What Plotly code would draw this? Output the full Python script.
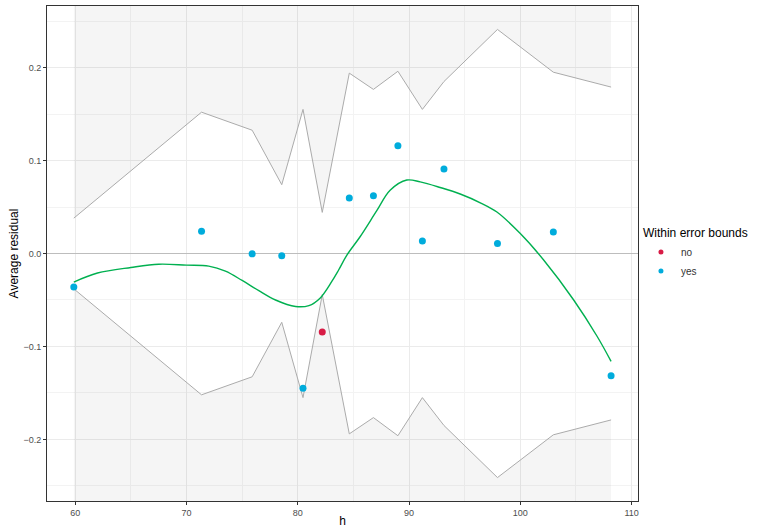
import plotly.graph_objects as go

# ---- data ----
h = [59.87, 71.35, 75.9, 78.56, 80.47, 82.2, 84.63, 86.8, 89.0, 91.2, 93.14, 97.95, 102.97, 108.16]
avg_resid = [-0.0361, 0.0239, -0.0004, -0.0024, -0.1448, -0.0844, 0.0596, 0.0622, 0.116,
             0.0135, 0.0909, 0.0107, 0.0232, -0.1316]
bound = [0.038, 0.152, 0.1326, 0.074, 0.155, 0.0442, 0.194, 0.1765, 0.196, 0.155, 0.185,
         0.241, 0.195, 0.179]
within = ["yes", "yes", "yes", "yes", "yes", "no", "yes", "yes", "yes", "yes", "yes", "yes", "yes", "yes"]

smooth_x = [59.87, 62, 65, 67.5, 70, 72, 73.5, 75, 76.5, 78, 79.8, 81, 82, 83.06, 83.66, 84.4,
            85.6, 87.1, 88.3, 89.8, 91, 92.8, 94.6, 96.5, 97.9, 100, 102.1, 104.8, 106.9, 108.16]
smooth_y = [-0.0307, -0.021, -0.015, -0.0115, -0.0125, -0.0136, -0.019, -0.029, -0.040, -0.050,
            -0.057, -0.056, -0.048, -0.030, -0.018, -0.002, 0.018, 0.046, 0.068, 0.079, 0.077,
            0.071, 0.064, 0.054, 0.0446, 0.0214, -0.007, -0.050, -0.089, -0.116]

x_ticks = [60, 70, 80, 90, 100, 110]
y_ticks = [-0.2, -0.1, 0.0, 0.1, 0.2]
y_tick_labels = ["\u22120.2", "\u22120.1", "0.0", "0.1", "0.2"]

X_RANGE = [57.46, 110.58]
Y_RANGE = [-0.2662, 0.2662]

upper = bound
lower = [-b for b in bound]

FONT = "Liberation Sans, Arial, sans-serif"
FILL = "rgba(0,0,0,0.04)"
BOUND_COL = "#ababab"
COLORS = {"no": "#d81b45", "yes": "#00acdc"}

fig = go.Figure()

# shaded region above upper bound
fig.add_trace(go.Scatter(
    x=h + h[::-1], y=upper + [Y_RANGE[1]] * len(h), fill="toself", fillcolor=FILL,
    line=dict(width=0), mode="lines", hoverinfo="skip", showlegend=False))
# shaded region below lower bound
fig.add_trace(go.Scatter(
    x=h + h[::-1], y=lower + [Y_RANGE[0]] * len(h), fill="toself", fillcolor=FILL,
    line=dict(width=0), mode="lines", hoverinfo="skip", showlegend=False))

# zero line
fig.add_trace(go.Scatter(x=X_RANGE, y=[0, 0], mode="lines",
                         line=dict(color="#bdbdbd", width=1), hoverinfo="skip", showlegend=False))

# bounds
fig.add_trace(go.Scatter(x=h, y=upper, mode="lines", line=dict(color=BOUND_COL, width=1),
                         showlegend=False))
fig.add_trace(go.Scatter(x=h, y=lower, mode="lines", line=dict(color=BOUND_COL, width=1),
                         showlegend=False))

# smooth
fig.add_trace(go.Scatter(x=smooth_x, y=smooth_y, mode="lines",
                         line=dict(color="#00b050", width=1.4, shape="spline", smoothing=1.0),
                         showlegend=False))

# points
for cat in ["no", "yes"]:
    xs = [x for x, w in zip(h, within) if w == cat]
    ys = [y for y, w in zip(avg_resid, within) if w == cat]
    fig.add_trace(go.Scatter(x=xs, y=ys, mode="markers", name=cat, showlegend=False,
                             marker=dict(color=COLORS[cat], size=7)))
    # legend entry (smaller key as in the reference)
    fig.add_trace(go.Scatter(x=[None], y=[None], mode="markers", name=cat,
                             marker=dict(color=COLORS[cat], size=5)))

axis_common = dict(
    showgrid=True, gridcolor="#ebebeb", gridwidth=1,
    minor=dict(showgrid=True, gridcolor="#f3f3f3", gridwidth=0.6),
    zeroline=False, showline=True, linecolor="#333333", linewidth=1, mirror=True,
    ticks="outside", ticklen=3, tickcolor="#333333", tickwidth=1,
    tickfont=dict(family=FONT, size=9, color="#4d4d4d"),
    automargin=False,
)

fig.update_xaxes(range=X_RANGE, tickvals=x_ticks, ticktext=[str(t) for t in x_ticks],
                 minor_dtick=5, minor_tick0=0,
                 title=dict(text="h", font=dict(family=FONT, size=12, color="#000"), standoff=0),
                 **axis_common)
fig.update_yaxes(range=Y_RANGE, tickvals=y_ticks, ticktext=y_tick_labels,
                 minor_dtick=0.05, minor_tick0=0,
                 title=dict(text="Average residual", font=dict(family=FONT, size=12, color="#000"),
                            standoff=2),
                 **axis_common)

fig.update_layout(
    width=759, height=528,
    margin=dict(l=47, r=121, t=6, b=27, autoexpand=False),
    paper_bgcolor="white", plot_bgcolor="white",
    legend=dict(
        title=dict(text="Within error bounds", font=dict(family=FONT, size=12, color="#000")),
        font=dict(family=FONT, size=10, color="#333"),
        x=1.005, y=0.564, xanchor="left", yanchor="top",
        tracegroupgap=0, bgcolor="rgba(0,0,0,0)",
    ),
)

fig.write_html("out.html")
